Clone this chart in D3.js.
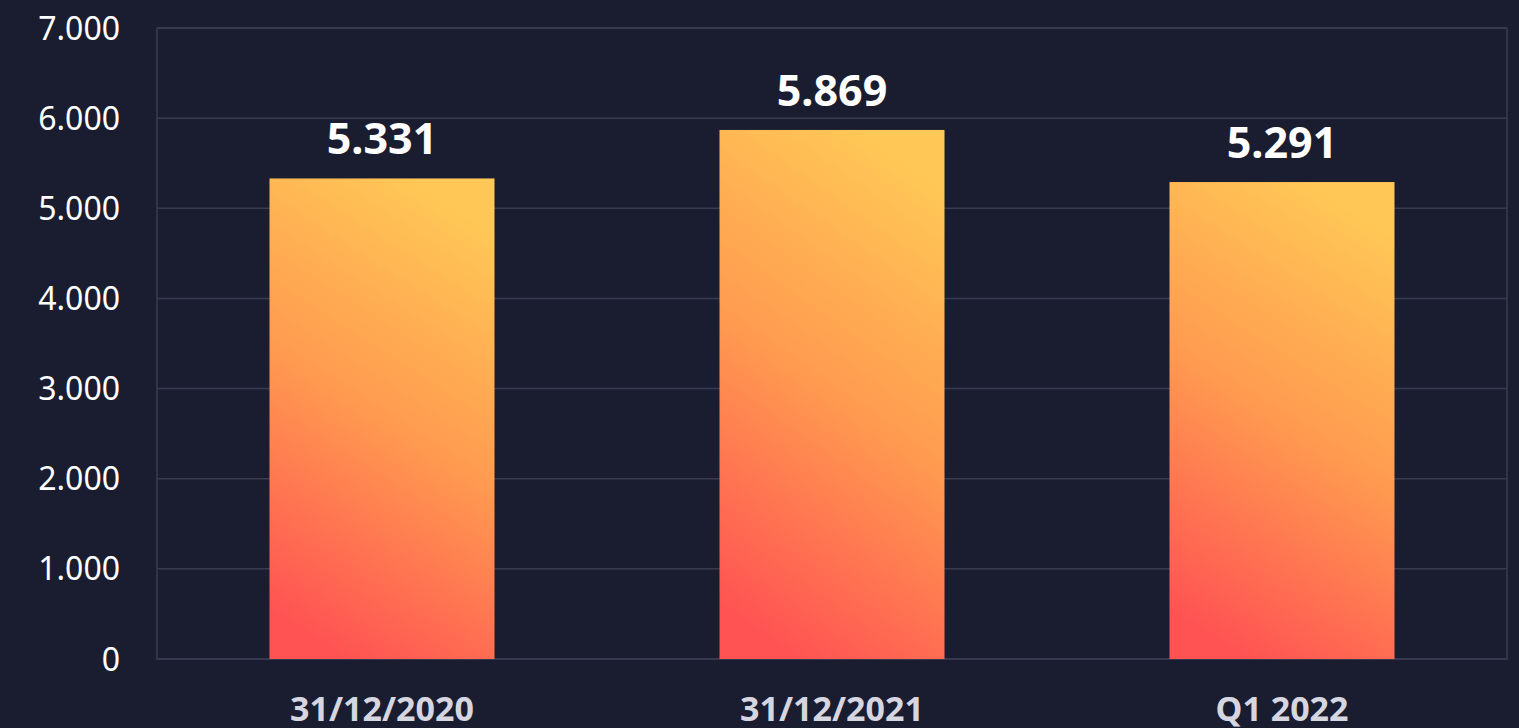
<!DOCTYPE html>
<html lang="en">
<head>
<meta charset="UTF-8">
<title>Bar chart</title>
<script src="https://d3js.org/d3.v7.min.js"></script>
<style>
  html, body { margin: 0; padding: 0; background: #1a1d30; }
  svg { display: block; }
  .ylab { font-family: 'Noto Sans', sans-serif; font-size: 32px; fill: #ffffff; }
  .xlab { font-family: 'Noto Sans', sans-serif; font-size: 34px; font-weight: bold; fill: #d6d6e0; }
  .val { font-family: 'Noto Sans', sans-serif; font-size: 43px; font-weight: bold; fill: #ffffff; }
</style>
</head>
<body>
<svg id="chart" width="1519" height="728"></svg>
<script>
var categories = ["31/12/2020", "31/12/2021", "Q1 2022"];
var values = [5331, 5869, 5291];
var yTicks = [0, 1000, 2000, 3000, 4000, 5000, 6000, 7000];

var svg = d3.select("#chart"),
    margin = {top: 28, right: 12, bottom: 69, left: 157},
    width = +svg.attr("width") - margin.left - margin.right,
    height = +svg.attr("height") - margin.top - margin.bottom;

var fmt = function(v) { return d3.format(",")(v).replace(/,/g, "."); };

var defs = svg.append("defs");
var grad = defs.append("linearGradient").attr("id", "barGrad")
    .attr("x1", 0.35).attr("y1", 1).attr("x2", 0.65).attr("y2", 0);
grad.append("stop").attr("offset", "0%").attr("stop-color", "#ff5353");
grad.append("stop").attr("offset", "50%").attr("stop-color", "#ff9a50");
grad.append("stop").attr("offset", "100%").attr("stop-color", "#ffc856");

var x = d3.scaleBand().domain(categories).range([0, width]).paddingInner(0.5).paddingOuter(0.25);
var y = d3.scaleLinear().domain([0, 7000]).range([height, 0]);

var g = svg.append("g").attr("transform", "translate(" + margin.left + "," + margin.top + ")");

// grid lines + frame
g.selectAll(".grid").data(yTicks).enter().append("line")
    .attr("x1", 0).attr("x2", width)
    .attr("y1", function(d) { return y(d); }).attr("y2", function(d) { return y(d); })
    .attr("stroke", "#3a3b4f").attr("stroke-width", 1.5);
g.append("rect").attr("x", 0).attr("y", 0).attr("width", width).attr("height", height)
    .attr("fill", "none").attr("stroke", "#3a3b4f").attr("stroke-width", 1.5);

// y labels
g.selectAll(".ylab").data(yTicks).enter().append("text")
    .attr("class", "ylab")
    .attr("x", -37).attr("y", function(d) { return y(d); }).attr("dy", "0.36em")
    .attr("text-anchor", "end")
    .text(function(d) { return fmt(d); });

// bars
g.selectAll(".bar").data(values).enter().append("rect")
    .attr("x", function(d, i) { return x(categories[i]); })
    .attr("y", function(d) { return y(d); })
    .attr("width", x.bandwidth())
    .attr("height", function(d) { return height - y(d); })
    .attr("fill", "url(#barGrad)");

// value labels
g.selectAll(".val").data(values).enter().append("text")
    .attr("class", "val")
    .attr("x", function(d, i) { return x(categories[i]) + x.bandwidth() / 2; })
    .attr("y", function(d) { return y(d) - 24; })
    .attr("text-anchor", "middle")
    .text(function(d) { return fmt(d); });

// x labels
g.selectAll(".xlab").data(categories).enter().append("text")
    .attr("class", "xlab")
    .attr("x", function(d) { return x(d) + x.bandwidth() / 2; })
    .attr("y", height + 62)
    .attr("text-anchor", "middle")
    .text(function(d) { return d; });
</script>
</body>
</html>
